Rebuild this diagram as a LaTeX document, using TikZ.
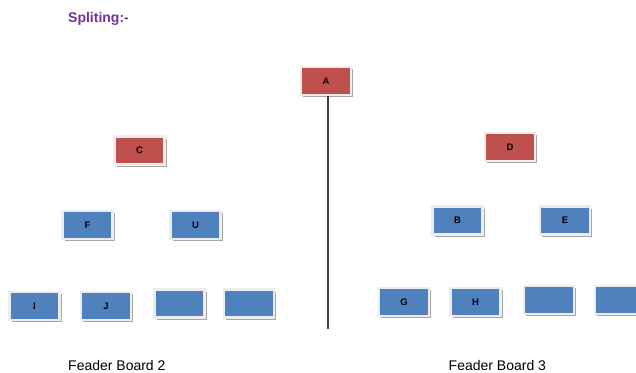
\documentclass[tikz,border=0pt]{standalone}
\usepackage{fontspec}
\setmainfont{Liberation Sans}
\usetikzlibrary{shadows}
\definecolor{boxred}{HTML}{C0504D}
\definecolor{boxblue}{HTML}{4F81BD}
\definecolor{titlepurple}{HTML}{7030A0}
\begin{document}
\begin{tikzpicture}[x=1pt, y=-1pt,
    box/.style={draw=black!7, line width=2.4pt, minimum width=50pt, minimum height=28pt,
      inner sep=0pt, font=\fontsize{9.5}{11}\selectfont\bfseries,
      drop shadow={shadow xshift=2.2pt, shadow yshift=-2.4pt, fill=black!35, opacity=1}},
    redbox/.style={box, fill=boxred},
    bluebox/.style={box, fill=boxblue},
    caption/.style={anchor=west, inner sep=0pt, font=\fontsize{14}{16}\selectfont}]
    \clip (0,0) rectangle (636,372);
    \useasboundingbox (0,0) rectangle (636,372);
    \node[anchor=west, inner sep=0pt, text=titlepurple, font=\fontsize{14}{16}\selectfont\bfseries] (title) at (68, 19) {Spliting:-};
    \node[redbox] (A) at (326, 81) {A};
    \node[redbox] (C) at (139.5, 150.5) {C};
    \node[redbox] (D) at (510, 147) {D};
    \node[bluebox] (F) at (87.5, 225) {F};
    \node[bluebox] (U) at (195.5, 225) {U};
    \node[bluebox] (B) at (457.5, 220.5) {B};
    \node[bluebox] (E) at (565, 220.5) {E};
    \node[bluebox] (I) at (34.5, 306) {I};
    \node[bluebox] (J) at (106, 306) {J};
    \node[bluebox] (k1) at (179.5, 303.5) {};
    \node[bluebox] (k2) at (249, 303.5) {};
    \node[bluebox] (G) at (404, 302) {G};
    \node[bluebox] (H) at (475.5, 302) {H};
    \node[bluebox] (k3) at (549, 300) {};
    \node[bluebox] (k4) at (620, 300) {};
    \coordinate (split) at (328, 329);
    \draw [black!75, line width=1.2pt] (A.south -| split) -- (split);
    \node[caption] (fb2) at (68, 365) {Feader Board 2};
    \node[caption] (fb3) at (448.5, 365) {Feader Board 3};
  \end{tikzpicture}
\end{document}
